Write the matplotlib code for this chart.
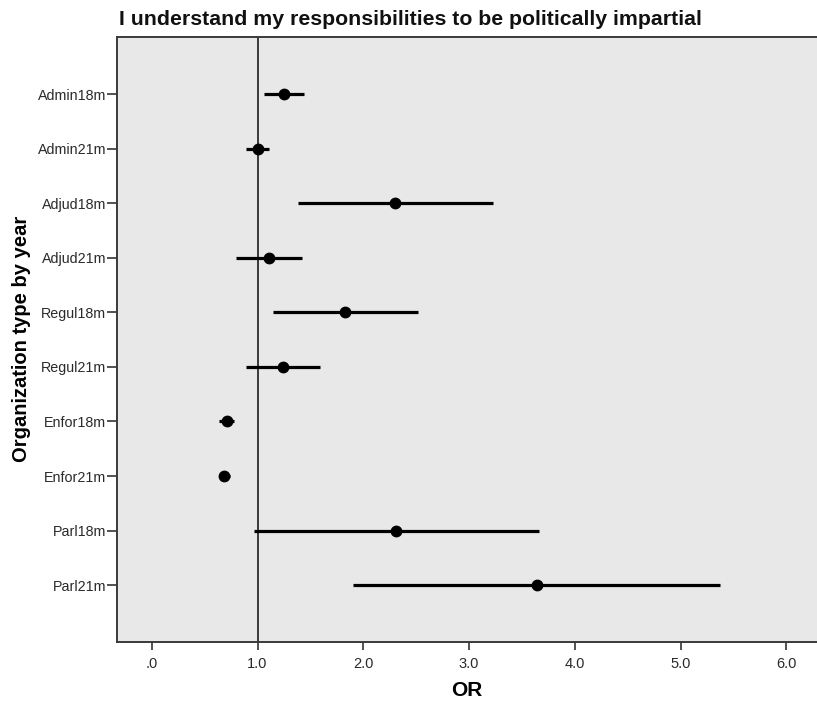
#!/usr/bin/env python3
"""Forest plot of odds ratios by organization type and year."""

import numpy as np
import matplotlib.pyplot as plt

plt.rcParams["font.family"] = ["Liberation Sans", "DejaVu Sans"]

# Data
groups = ["Admin18m", "Admin21m", "Adjud18m", "Adjud21m", "Regul18m",
          "Regul21m", "Enfor18m", "Enfor21m", "Parl18m", "Parl21m"]
odds_ratio = [1.25, 1.00, 2.30, 1.11, 1.83, 1.24, 0.71, 0.68, 2.31, 3.64]
ci_low = [1.06, 0.89, 1.38, 0.80, 1.15, 0.89, 0.64, 0.64, 0.97, 1.90]
ci_high = [1.44, 1.11, 3.23, 1.42, 2.52, 1.59, 0.78, 0.74, 3.66, 5.37]
xticks = [0.0, 1.0, 2.0, 3.0, 4.0, 5.0, 6.0]
xtick_labels = [".0", "1.0", "2.0", "3.0", "4.0", "5.0", "6.0"]


def main():
    fig = plt.figure(figsize=(8.17, 7.02), dpi=100)
    ax = fig.add_axes([0.1428, 0.0855, 0.8572, 0.8622])
    ax.set_facecolor("#e8e8e8")

    y = np.arange(len(groups))
    ax.axvline(1.0, color="#3a3a3a", lw=1.4, zorder=1)
    ax.hlines(y, ci_low, ci_high, color="black", lw=2.3, zorder=2)
    ax.plot(odds_ratio, y, "o", color="black", ms=7.5, zorder=3)

    ax.set_xlim(-0.332, 6.29)
    ax.set_ylim(len(groups) - 1 + 1.04, -1.05)
    ax.set_yticks(y)
    ax.set_yticklabels(groups, fontsize=10.3, color="#2a2a2a")
    ax.set_xticks(xticks)
    ax.set_xticklabels(xtick_labels, fontsize=10.5, color="#2a2a2a")
    ax.tick_params(axis="y", length=7, width=1.2, color="#333333", pad=0.5)
    ax.tick_params(axis="x", length=6, width=1.2, color="#333333", pad=5)

    for side in ["left", "bottom", "top"]:
        ax.spines[side].set_color("#3a3a3a")
        ax.spines[side].set_linewidth(1.4)
    ax.spines["right"].set_visible(False)

    ax.set_xlabel("OR", fontsize=15, fontweight="bold", labelpad=7)
    ax.set_ylabel("Organization type by year", fontsize=14.5,
                  fontweight="bold", labelpad=5)
    fig.text(119 / 817, 1 - 25 / 702,
             "I understand my responsibilities to be politically impartial",
             fontsize=15.3, fontweight="bold", va="baseline", ha="left",
             color="#111111")

    fig.savefig("out.png", dpi=100)


if __name__ == "__main__":
    main()
